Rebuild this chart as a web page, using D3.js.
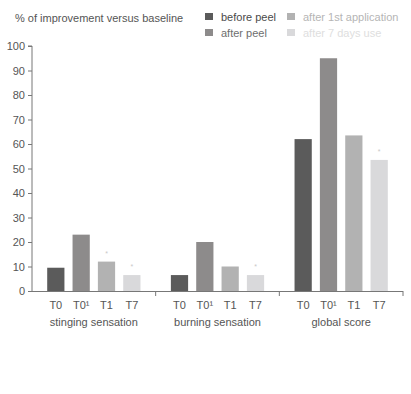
<!DOCTYPE html>
<html>
<head>
<meta charset="utf-8">
<script src="https://cdn.jsdelivr.net/npm/d3@7"></script>
<style>
  body { margin: 0; background: #fff; }
  text { font-family: "Liberation Sans", Arial, sans-serif; }
</style>
</head>
<body>
<div id="chart"></div>
<script>
const groups = ["stinging sensation", "burning sensation", "global score"]
const times = ["T0", "T0'", "T1", "T7"]
const series = ["before peel", "after peel", "after 1st application", "after 7 days use"]
const values = [
  [9.5, 23, 12, 6.5],
  [6.5, 20, 10, 6.5],
  [62, 95, 63.5, 53.5]
]
// asterisks (significance) per group, per time
const marks = [
  [false, false, true, true],
  [false, false, false, true],
  [false, false, false, true]
]
const yTicks = [0, 10, 20, 30, 40, 50, 60, 70, 80, 90, 100]

const colors = ["#5b5b5b", "#8d8b8b", "#b2b2b2", "#d9d9db"]
const legendText = ["#4a4a4a", "#6e6e6e", "#b5b5b5", "#dedede"]

const width = 411, height = 394
const margin = {left: 32, top: 46, right: 8}
const plotBottom = 291

const svg = d3.select("#chart").append("svg")
    .attr("width", width)
    .attr("height", height)

const x0 = d3.scaleBand()
    .domain(groups)
    .range([32, 403])
    .paddingInner(0)
    .paddingOuter(0)

const x1 = d3.scaleBand()
    .domain(times)
    .range([0, x0.bandwidth()])
    .paddingInner(0.32)
    .paddingOuter(0.6)

const y = d3.scaleLinear()
    .domain([0, 100])
    .range([plotBottom, margin.top])

// title
svg.append("text")
    .attr("x", 15)
    .attr("y", 22)
    .attr("font-size", 11)
    .attr("fill", "#555")
    .text("% of improvement versus baseline")

// legend
const legendPos = [[205, 17], [205, 33], [287, 17], [287, 33]]
series.forEach((s, i) => {
  const [lx, ly] = legendPos[i]
  svg.append("rect")
      .attr("x", lx).attr("y", ly - 4)
      .attr("width", 8).attr("height", 7)
      .attr("fill", colors[i])
  svg.append("text")
      .attr("x", lx + 16).attr("y", ly + 4)
      .attr("font-size", 11)
      .attr("fill", legendText[i])
      .text(s)
})

// bars
const g = svg.append("g")
groups.forEach((grp, gi) => {
  times.forEach((t, ti) => {
    const v = values[gi][ti]
    const bx = x0(grp) + x1(t)
    g.append("rect")
        .attr("x", bx)
        .attr("y", y(v))
        .attr("width", x1.bandwidth())
        .attr("height", y(0) - y(v))
        .attr("fill", colors[ti])
    if (marks[gi][ti]) {
      g.append("text")
          .attr("x", bx + x1.bandwidth() / 2)
          .attr("y", y(v) - 6)
          .attr("text-anchor", "middle")
          .attr("font-size", 7)
          .attr("fill", "#c8c8c8")
          .text("*")
    }
    g.append("text")
        .attr("x", bx + x1.bandwidth() / 2)
        .attr("y", 309)
        .attr("text-anchor", "middle")
        .attr("font-size", 11)
        .attr("fill", "#555")
        .text(t === "T0'" ? "T0\u00b9" : t)
  })
  g.append("text")
      .attr("x", x0(grp) + x0.bandwidth() / 2)
      .attr("y", 326)
      .attr("text-anchor", "middle")
      .attr("font-size", 11)
      .attr("fill", "#555")
      .text(grp)
})

// y axis
const yAxis = svg.append("g")
    .attr("transform", `translate(${margin.left},0)`)
    .call(d3.axisLeft(y).tickValues(yTicks).tickSize(4).tickPadding(3))
yAxis.selectAll("path, line").attr("stroke", "#777")
yAxis.selectAll("text").attr("font-size", 11).attr("fill", "#555")
  .attr("font-family", "Liberation Sans, Arial, sans-serif")
yAxis.select(".domain").attr("d", `M-4,${y(100)}H0V${y(0)}`)

// x axis baseline and separators
svg.append("line")
    .attr("x1", margin.left - 4).attr("x2", 403)
    .attr("y1", plotBottom + 0.5).attr("y2", plotBottom + 0.5)
    .attr("stroke", "#777")
groups.slice(1).concat([null]).forEach((grp) => {
  const sx = grp ? x0(grp) : 403
  svg.append("line")
      .attr("x1", sx).attr("x2", sx)
      .attr("y1", plotBottom).attr("y2", plotBottom + 5)
      .attr("stroke", "#777")
})
</script>
</body>
</html>
